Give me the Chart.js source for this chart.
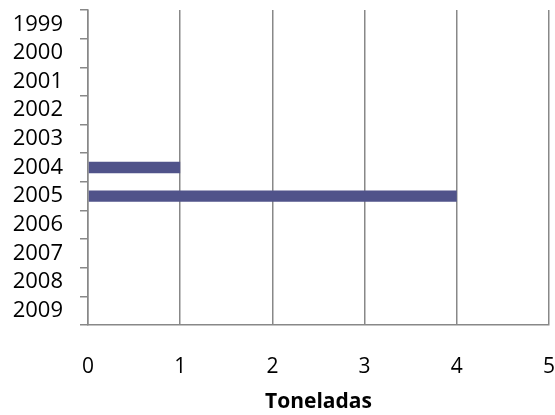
<!DOCTYPE html>
<html>
<head>
<meta charset="utf-8">
<script src="https://cdn.jsdelivr.net/npm/chart.js@4"></script>
<style>
  html, body { margin: 0; padding: 0; background: #fff; }
  #wrap { width: 555px; height: 415px; }
</style>
</head>
<body>
<div id="wrap"><canvas id="c" width="555" height="415"></canvas></div>
<script>
// Years on the category axis
const years = ['1999', '2000', '2001', '2002', '2003', '2004', '2005', '2006', '2007', '2008', '2009'];
// Tonnes per year (only 2004 and 2005 have values)
const toneladas = [null, null, null, null, null, 1, 4, null, null, null, null];
// Value axis
const xMin = 0;
const xMax = 5;
const xStep = 1;
const xTitle = 'Toneladas';

const FONT = "'Open Sans', 'Liberation Sans', sans-serif";

// Drop the automatic edge padding that labels add, so the plot fills the box
function noEdgePadding(scale) {
  scale.paddingLeft = 0;
  scale.paddingRight = 0;
  scale.paddingTop = 0;
  scale.paddingBottom = 0;
}

new Chart(document.getElementById('c'), {
  type: 'bar',
  data: {
    labels: years,
    datasets: [{
      data: toneladas,
      backgroundColor: '#50538a',
      borderWidth: 0,
      barPercentage: 0.4,
      categoryPercentage: 1.0
    }]
  },
  options: {
    indexAxis: 'y',
    responsive: false,
    animation: false,
    devicePixelRatio: 1,
    layout: { padding: { top: 10, right: 6, left: 0, bottom: 0 } },
    plugins: { legend: { display: false }, tooltip: { enabled: false } },
    scales: {
      x: {
        min: xMin,
        max: xMax,
        ticks: {
          stepSize: xStep,
          color: '#000',
          padding: 29,
          font: { family: FONT, size: 21 }
        },
        grid: {
          color: '#888',
          lineWidth: 1.5,
          drawTicks: false
        },
        border: { display: true, color: '#888', width: 1.5 },
        title: {
          display: true,
          text: xTitle,
          color: '#000',
          padding: { top: 3, bottom: 0 },
          font: { family: FONT, size: 21, weight: 'bold' }
        },
        afterFit(scale) { scale.height = 90; noEdgePadding(scale); }
      },
      y: {
        offset: true,
        ticks: {
          color: '#000',
          padding: 17,
          autoSkip: false,
          font: { family: FONT, size: 22 }
        },
        grid: {
          offset: true,
          drawOnChartArea: false,
          drawTicks: true,
          tickLength: 8,
          color: '#888',
          lineWidth: 1.5
        },
        border: { display: true, color: '#888', width: 1.5 },
        afterFit(scale) { scale.width = 88; noEdgePadding(scale); }
      }
    }
  }
});
</script>
</body>
</html>
